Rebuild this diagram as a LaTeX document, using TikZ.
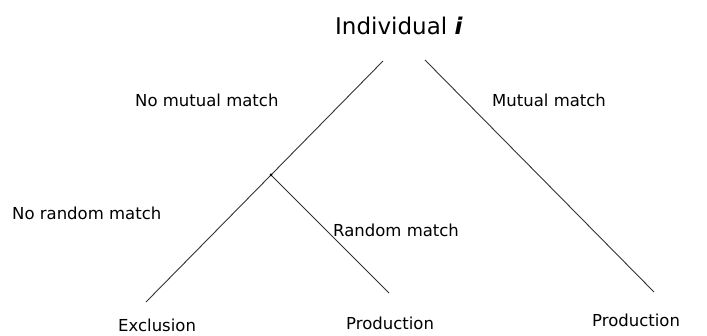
\documentclass[tikz,border=0pt]{standalone}
\usepackage{fontspec}
\setmainfont{DejaVu Sans}
\begin{document}
\begin{tikzpicture}[x=1pt,y=-1pt,
  lbl/.style={anchor=base west,inner sep=0pt,font=\fontsize{16.5}{18}\selectfont},
  ttl/.style={anchor=base west,inner sep=0pt,font=\fontsize{23}{25}\selectfont},
  branch/.style={draw=black!80,line width=0.9pt}]
\useasboundingbox (0,0) rectangle (707,336);
\node[ttl] (root) at (335,35) {Individual \textbf{\textit{i}}};
\coordinate (l0) at (383,61);
\coordinate (r0) at (425,60);
\coordinate (j) at (271,175);
\coordinate (e) at (146,302);
\coordinate (p1) at (389,293);
\coordinate (p2) at (654,292);
\draw[branch] (l0) -- (j);
\draw[branch] (r0) -- (p2);
\draw[branch] (j) -- (e);
\draw[branch] (j) -- (p1);
\fill (j) circle (1.5pt);
\node[lbl] (nmm) at (135,107) {No mutual match};
\node[lbl] (mm) at (492,107) {Mutual match};
\node[lbl] (nrm) at (12,220) {No random match};
\node[lbl] (rm) at (333,237) {Random match};
\node[lbl] (ex) at (118,332) {Exclusion};
\node[lbl] (pr1) at (346,330) {Production};
\node[lbl] (pr2) at (592,327) {Production};
\end{tikzpicture}
\end{document}
